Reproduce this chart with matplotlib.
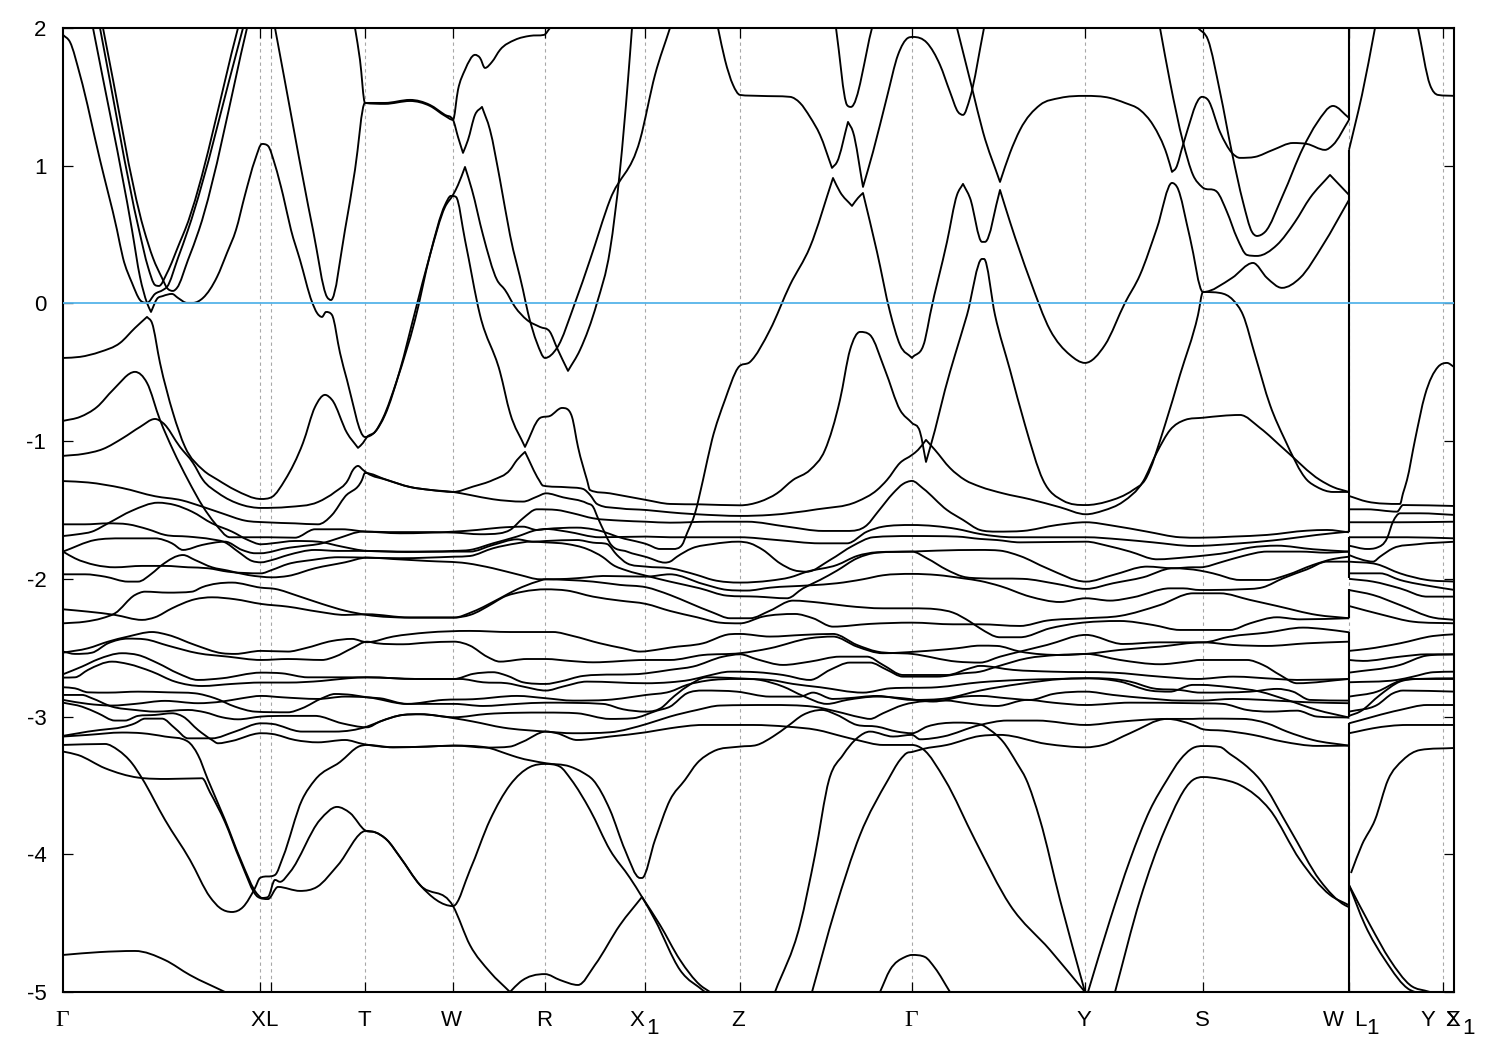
import matplotlib
matplotlib.use("Agg")
import matplotlib.pyplot as plt
from matplotlib.patches import PathPatch
from matplotlib.path import Path
from matplotlib.transforms import blended_transform_factory

# ── Band data: (k along the path, energy) ────────────────

band_top = [(63,-1.29),(88,-1.30),(122,-1.34),(155,-1.40),(182,-1.43),(202,-1.475),(222,-1.524),(245,-1.577),(268,-1.59),(295,-1.597),(318,-1.604),(332,-1.536),(345,-1.403),(362,-1.282),(365,-1.231),(387,-1.282),(410,-1.333),(430,-1.354),(453,-1.369),(473,-1.33),(493,-1.282),(510,-1.209),(517,-1.137),(525,-1.078),(539,-1.282),(543,-1.323),(567,-1.335),(583,-1.347),(590,-1.39),(597,-1.456),(620,-1.488),(646,-1.50),(670,-1.517),(692,-1.529),(697,-1.531),(740,-1.543),(770,-1.536),(817,-1.495),(857,-1.439),(877,-1.355),(887,-1.282),(900,-1.158),(912,-1.10),(918,-1.064),(926,-0.991),(935,-1.064),(950,-1.195),(965,-1.282),(980,-1.33),(1003,-1.379),(1030,-1.422),(1060,-1.48),(1086,-1.531),(1103,-1.505),(1123,-1.44),(1143,-1.294),(1157,-1.08),(1170,-0.92),(1185,-0.846),(1203,-0.83),(1240,-0.81),(1260,-0.904),(1285,-1.064),(1320,-1.282),(1333,-1.333),(1349,-1.369)]
band_par2 = [(63,-1.107),(83,-1.093),(103,-1.057),(123,-0.977),(140,-0.897),(155,-0.839),(163,-0.868),(180,-1.042),(193,-1.158),(203,-1.282),(218,-1.376),(242,-1.463),(261,-1.485),(288,-1.478),(318,-1.442),(335,-1.369),(348,-1.282),(353,-1.209),(358,-1.18),(363,-1.209),(367,-1.231),(387,-1.282),(410,-1.333),(430,-1.354),(453,-1.369),(470,-1.391),(493,-1.422),(523,-1.439),(537,-1.403),(546,-1.379),(563,-1.408),(587,-1.451),(593,-1.476),(598,-1.56),(605,-1.669),(610,-1.742),(627,-1.802),(647,-1.843),(665,-1.882),(670,-1.875),(677,-1.839),(692,-1.778),(713,-1.747),(738,-1.73),(750,-1.742),(763,-1.79),(780,-1.887),(793,-1.935),(807,-1.948),(830,-1.863),(853,-1.759),(873,-1.698),(912,-1.689),(957,-1.693),(980,-1.71),(997,-1.718),(1020,-1.735),(1086,-1.73),(1107,-1.759),(1130,-1.802),(1157,-1.858),(1187,-1.843),(1200,-1.834),(1227,-1.81),(1250,-1.773),(1277,-1.759),(1313,-1.785),(1349,-1.802)]
band_k1 = [(63,-0.396),(80,-0.388),(100,-0.352),(120,-0.287),(135,-0.178),(147,-0.098),(152,-0.142),(160,-0.432),(173,-0.795),(185,-1.042),(203,-1.209),(218,-1.282),(235,-1.354),(261,-1.42),(272,-1.405),(285,-1.282),(303,-1.013),(315,-0.752),(325,-0.664),(332,-0.70),(347,-0.94),(358,-1.049),(363,-1.013),(367,-0.97),(375,-0.933),(383,-0.832),(397,-0.556),(415,-0.12),(430,0.352),(445,0.715),(451,0.781),(456,0.773),(465,0.461),(480,-0.084),(500,-0.497),(510,-0.795),(525,-1.042),(540,-0.832),(550,-0.817),(562,-0.759),(567,-0.766),(572,-0.824),(578,-1.042),(587,-1.282),(590,-1.355),(610,-1.379),(646,-1.427),(670,-1.456),(700,-1.459),(740,-1.466),(760,-1.439),(777,-1.379),(793,-1.282),(810,-1.209),(825,-1.064),(840,-0.70),(850,-0.338),(860,-0.207),(870,-0.229),(885,-0.483),(900,-0.773),(912,-0.868),(920,-0.933),(926,-1.151),(935,-0.919),(945,-0.628),(955,-0.374),(967,-0.084),(982,0.323),(984,0.323),(995,-0.084),(1010,-0.483),(1025,-0.882),(1043,-1.282),(1063,-1.432),(1086,-1.464),(1107,-1.439),(1133,-1.355),(1145,-1.282),(1165,-0.882),(1180,-0.519),(1198,-0.084),(1203,0.083),(1220,0.076),(1233,0.025),(1243,-0.084),(1255,-0.374),(1270,-0.737),(1285,-0.991),(1307,-1.282),(1317,-1.333),(1333,-1.369),(1349,-1.369)]
band_m0 = [(93,2.0),(132,0.534),(140,0.192),(147,0.004),(151,-0.062),(157,0.033),(163,0.054),(172,0.069),(178,0.04),(187,0.004),(193,0.004),(203,0.04),(217,0.192),(227,0.367),(236,0.534),(245,0.788),(255,1.042),(262,1.158),(268,1.144),(275,1.006),(283,0.788),(291,0.534),(300,0.316),(312,0.011),(317,-0.069),(322,-0.098),(326,-0.062),(332,-0.084),(340,-0.359),(347,-0.556),(365,-0.97),(375,-0.933),(385,-0.81),(400,-0.483),(415,-0.062),(430,0.352),(445,0.70),(453,0.788),(458,0.86),(465,0.991),(472,0.824),(483,0.497),(497,0.171),(505,0.098),(515,-0.025),(527,-0.12),(540,-0.171),(550,-0.207),(557,-0.323),(568,-0.49),(580,-0.338),(597,0.004),(610,0.388),(620,0.969),(628,1.623),(632,2.0)]
band_s1 = [(63,1.95),(70,1.898),(80,1.659),(100,1.042),(117,0.534),(123,0.33),(132,0.149),(140,0.025),(147,0.004),(155,0.069),(163,0.098),(167,0.12),(178,0.33),(188,0.534),(243,2.0)]
band_s3 = [(100,2.0),(139,0.534),(148,0.265),(155,0.134),(159,0.127),(167,0.221),(180,0.447),(185,0.534),(238,2.0)]
band_s4 = [(103,2.0),(144,0.534),(153,0.33),(162,0.185),(167,0.113),(173,0.091),(177,0.113),(188,0.316),(199,0.534),(247,2.0)]
band_tpar = [(275,2.0),(313,0.534),(327,0.047),(331,0.025),(345,0.534),(355,0.97),(365,1.456),(385,1.456),(410,1.478),(430,1.441),(445,1.369),(453,1.333),(458,1.209),(463,1.093),(468,1.187),(475,1.369),(482,1.427),(490,1.26),(500,0.897),(510,0.497),(523,0.098),(528,-0.069),(537,-0.287),(545,-0.396),(557,-0.323),(575,0.004),(590,0.316),(610,0.752),(640,1.187),(655,1.659),(670,2.0)]
band_t2 = [(355,2.0),(360,1.768),(365,1.456),(385,1.449),(410,1.47),(430,1.434),(445,1.362),(453,1.333),(458,1.551),(465,1.696),(475,1.805),(480,1.783),(485,1.71),(492,1.754),(500,1.841),(515,1.914),(530,1.943),(544,1.95),(550,2.0)]
band_z = [(718,2.0),(725,1.768),(733,1.587),(740,1.514),(760,1.507),(790,1.50),(800,1.456),(810,1.354),(820,1.224),(832,0.984),(837,1.027),(848,1.318),(853,1.246),(863,0.846),(873,1.10),(887,1.50),(898,1.805),(908,1.928),(913,1.935),(927,1.892),(940,1.732),(950,1.536),(958,1.391),(963,1.369),(970,1.492),(984,2.0)]
band_h2 = [(836,2.0),(847,1.441),(851,1.427),(872,2.0)]
band_h3 = [(957,2.0),(972,1.565),(983,1.245),(1000,0.882),(1010,1.093),(1020,1.26),(1040,1.441),(1060,1.492),(1085,1.507),(1110,1.492),(1125,1.456),(1140,1.405),(1153,1.296),(1167,1.078),(1172,0.955),(1176,0.984),(1183,1.151),(1202,1.50),(1208,1.478),(1220,1.245),(1232,1.093),(1240,1.057),(1255,1.064),(1273,1.115),(1293,1.165),(1307,1.158),(1325,1.115),(1333,1.151),(1349,1.333)]
band_a = [(63,-1.802),(95,-1.718),(122,-1.706),(155,-1.706),(172,-1.742),(183,-1.79),(202,-1.754),(225,-1.73),(242,-1.79),(255,-1.814),(261,-1.814),(272,-1.802),(282,-1.783),(298,-1.766),(322,-1.742),(338,-1.706),(363,-1.657),(400,-1.669),(454,-1.657),(477,-1.645),(500,-1.628),(523,-1.621),(537,-1.645),(546,-1.638),(577,-1.628),(593,-1.64),(603,-1.657),(617,-1.693),(647,-1.749),(660,-1.783),(673,-1.783),(682,-1.754),(687,-1.669),(695,-1.524),(703,-1.282),(712,-0.991),(725,-0.70),(738,-0.468),(750,-0.425),(770,-0.192),(790,0.134),(810,0.41),(833,0.911),(840,0.81),(852,0.708),(858,0.766),(863,0.802),(877,0.374),(890,-0.062),(900,-0.301),(912,-0.396),(925,-0.265),(930,-0.084),(947,0.447),(957,0.788),(963,0.868),(970,0.766),(982,0.447),(985,0.447),(1000,0.824),(1010,0.592),(1030,0.171),(1050,-0.192),(1070,-0.374),(1085,-0.432),(1105,-0.301),(1125,0.004),(1140,0.207),(1157,0.548),(1172,0.875),(1177,0.846),(1190,0.476),(1203,0.083),(1232,0.185),(1253,0.294),(1267,0.185),(1282,0.113),(1300,0.185),(1323,0.425),(1349,0.752)]
band_a2 = [(1160,2.0),(1170,1.609),(1183,1.173),(1193,0.933),(1202,0.846),(1217,0.81),(1227,0.664),(1237,0.476),(1247,0.352),(1257,0.345),(1277,0.425),(1295,0.592),(1310,0.766),(1330,0.933),(1349,0.788)]
band_b2 = [(1198,2.0),(1208,1.914),(1220,1.536),(1232,1.093),(1243,0.737),(1252,0.519),(1257,0.49),(1265,0.519),(1283,0.788),(1303,1.129),(1317,1.311),(1333,1.434),(1349,1.347)]

band_b = [(63,-0.853),(80,-0.824),(97,-0.752),(113,-0.628),(135,-0.497),(147,-0.577),(160,-0.846),(173,-1.064),(188,-1.282),(203,-1.476),(215,-1.597),(230,-1.698),(268,-1.698),(295,-1.701),(315,-1.64),(342,-1.64),(367,-1.657),(454,-1.664),(480,-1.676),(500,-1.669),(510,-1.645),(523,-1.56),(537,-1.495),(557,-1.50),(573,-1.524),(593,-1.56),(620,-1.577),(646,-1.585),(670,-1.592),(710,-1.585),(747,-1.585),(787,-1.621),(823,-1.652),(847,-1.652),(867,-1.609),(878,-1.512),(893,-1.379),(903,-1.311),(912,-1.289),(923,-1.343),(947,-1.50),(963,-1.572),(980,-1.645),(997,-1.657),(1023,-1.652),(1057,-1.609),(1086,-1.589),(1113,-1.614),(1147,-1.657),(1180,-1.698),(1200,-1.701),(1233,-1.693),(1267,-1.681),(1307,-1.65),(1327,-1.645),(1349,-1.662)]
band_d = [(63,-1.689),(78,-1.676),(92,-1.657),(108,-1.597),(132,-1.505),(158,-1.447),(175,-1.464),(192,-1.512),(212,-1.597),(232,-1.657),(248,-1.718),(261,-1.749),(272,-1.742),(295,-1.725),(318,-1.73),(342,-1.766),(367,-1.797),(407,-1.802),(454,-1.797),(470,-1.79),(493,-1.742),(517,-1.693),(537,-1.645),(546,-1.638),(567,-1.657),(600,-1.698),(646,-1.693),(670,-1.698),(703,-1.698),(740,-1.698),(777,-1.718),(820,-1.742),(847,-1.742),(867,-1.657),(883,-1.621),(912,-1.609),(957,-1.638),(980,-1.674),(1013,-1.698),(1047,-1.698),(1086,-1.698),(1120,-1.713),(1153,-1.735),(1193,-1.761),(1240,-1.742),(1283,-1.713),(1317,-1.681),(1349,-1.657)]
band_c = [(63,-1.604),(85,-1.604),(108,-1.597),(128,-1.604),(148,-1.64),(165,-1.681),(188,-1.693),(212,-1.713),(225,-1.735),(238,-1.802),(252,-1.87),(261,-1.88),(272,-1.863),(288,-1.827),(315,-1.79),(338,-1.797),(367,-1.797),(407,-1.805),(454,-1.802),(470,-1.802),(493,-1.754),(517,-1.713),(533,-1.73),(546,-1.725),(577,-1.718),(593,-1.737),(607,-1.747),(617,-1.827),(627,-1.887),(646,-1.911),(670,-1.923),(697,-1.972),(713,-2.008),(740,-2.027),(770,-2.013),(790,-1.989),(807,-1.948),(837,-1.899),(857,-1.834),(877,-1.807),(912,-1.802),(927,-1.851),(947,-1.935),(963,-1.984),(980,-1.996),(1023,-2.0),(1057,-2.037),(1086,-2.073),(1113,-2.032),(1143,-1.989),(1173,-1.923),(1200,-1.94),(1213,-1.96),(1240,-2.008),(1267,-2.008),(1287,-1.972),(1313,-1.899),(1333,-1.856),(1349,-1.839)]
band_e = [(63,-1.802),(75,-1.851),(95,-1.899),(115,-1.916),(142,-1.906),(165,-1.906),(188,-1.916),(208,-1.923),(228,-1.948),(261,-1.96),(272,-1.935),(288,-1.892),(312,-1.863),(338,-1.843),(367,-1.846),(400,-1.85),(454,-1.839),(470,-1.834),(493,-1.778),(517,-1.742),(530,-1.73),(546,-1.735),(567,-1.747),(587,-1.783),(603,-1.843),(613,-1.899),(627,-1.94),(646,-1.977),(670,-2.02),(700,-2.069),(727,-2.122),(757,-2.129),(787,-2.141),(803,-2.069),(820,-2.008),(837,-1.94),(857,-1.851),(877,-1.81),(912,-1.802),(937,-1.795),(980,-1.79),(1000,-1.795),(1020,-1.834),(1047,-1.923),(1086,-2.02),(1113,-1.972),(1147,-1.911),(1173,-1.923),(1193,-1.916),(1200,-1.916),(1223,-1.875),(1243,-1.834),(1267,-1.802),(1300,-1.802),(1327,-1.81),(1349,-1.802)]
band_f = [(63,-1.967),(85,-1.967),(105,-1.984),(128,-2.02),(138,-2.02),(152,-1.96),(162,-1.899),(183,-1.827),(195,-1.863),(212,-1.916),(228,-1.94),(248,-1.972),(261,-1.984),(272,-1.989),(288,-1.979),(315,-1.923),(345,-1.88),(367,-1.846),(393,-1.856),(427,-1.87),(467,-1.887),(493,-1.923),(520,-1.972),(540,-2.003),(567,-2.0),(587,-1.989),(603,-1.979),(646,-1.984),(670,-1.967),(703,-2.037),(727,-2.08),(747,-2.085),(770,-2.064),(810,-2.047),(837,-2.032),(863,-2.003),(883,-1.974),(912,-1.964),(937,-1.972),(963,-1.996),(980,-2.015),(1000,-2.052),(1030,-2.129),(1060,-2.168),(1086,-2.141),(1110,-2.158),(1133,-2.134),(1170,-2.069),(1183,-2.069),(1200,-2.081),(1240,-2.076),(1263,-2.061),(1283,-1.996),(1307,-1.931),(1327,-1.875),(1349,-1.875)]
band_g = [(63,-2.221),(88,-2.238),(115,-2.262),(142,-2.298),(155,-2.279),(172,-2.214),(195,-2.148),(212,-2.134),(235,-2.148),(261,-2.182),(288,-2.202),(318,-2.238),(345,-2.262),(367,-2.257),(410,-2.281),(454,-2.281),(473,-2.238),(500,-2.141),(517,-2.076),(537,-2.02),(546,-2.003),(567,-2.008),(593,-2.02),(620,-2.044),(646,-2.061),(670,-2.117),(690,-2.177),(713,-2.245),(730,-2.286),(750,-2.286),(770,-2.231),(793,-2.158),(820,-2.173),(847,-2.197),(883,-2.214),(912,-2.214),(937,-2.221),(953,-2.245),(970,-2.311),(980,-2.359),(1000,-2.424),(1020,-2.424),(1050,-2.359),(1077,-2.323),(1120,-2.306),(1153,-2.335),(1180,-2.371),(1200,-2.371),(1230,-2.371),(1250,-2.323),(1277,-2.279),(1300,-2.294),(1349,-2.286)]
band_h = [(63,-2.323),(85,-2.311),(102,-2.286),(115,-2.25),(135,-2.117),(145,-2.093),(168,-2.1),(192,-2.093),(202,-2.061),(232,-2.027),(261,-2.064),(275,-2.073),(298,-2.124),(322,-2.182),(345,-2.231),(367,-2.262),(410,-2.281),(454,-2.281),(470,-2.262),(493,-2.177),(503,-2.134),(523,-2.093),(546,-2.076),(567,-2.085),(593,-2.129),(620,-2.158),(646,-2.182),(670,-2.233),(697,-2.279),(720,-2.318),(740,-2.323),(763,-2.274),(795,-2.255),(813,-2.286),(833,-2.347),(870,-2.327),(912,-2.318),(953,-2.33),(980,-2.33),(1020,-2.342),(1047,-2.303),(1086,-2.286),(1120,-2.269),(1160,-2.19),(1193,-2.105),(1220,-2.105),(1250,-2.153),(1277,-2.197),(1317,-2.262),(1349,-2.286)]
band_i = [(63,-2.536),(88,-2.504),(108,-2.456),(128,-2.419),(152,-2.386),(168,-2.407),(195,-2.48),(222,-2.54),(235,-2.545),(261,-2.523),(288,-2.528),(305,-2.504),(332,-2.451),(352,-2.436),(367,-2.46),(393,-2.419),(427,-2.39),(470,-2.378),(510,-2.386),(553,-2.386),(573,-2.415),(600,-2.468),(623,-2.504),(640,-2.528),(660,-2.511),(670,-2.499),(703,-2.468),(730,-2.402),(740,-2.4),(770,-2.419),(803,-2.407),(833,-2.4),(857,-2.48),(877,-2.528),(912,-2.545),(957,-2.601),(980,-2.608),(1000,-2.565),(1020,-2.528),(1047,-2.48),(1086,-2.407),(1123,-2.473),(1160,-2.461),(1203,-2.461),(1230,-2.419),(1267,-2.39),(1303,-2.354),(1323,-2.364),(1349,-2.388)]
band_j = [(63,-2.528),(75,-2.545),(92,-2.536),(108,-2.468),(128,-2.434),(145,-2.439),(168,-2.485),(198,-2.54),(228,-2.565),(261,-2.589),(288,-2.582),(322,-2.589),(335,-2.565),(352,-2.504),(367,-2.456),(377,-2.468),(403,-2.475),(427,-2.463),(454,-2.456),(470,-2.485),(487,-2.565),(500,-2.601),(527,-2.582),(546,-2.582),(570,-2.596),(593,-2.606),(646,-2.589),(670,-2.589),(703,-2.553),(740,-2.54),(770,-2.504),(810,-2.431),(833,-2.419),(857,-2.492),(883,-2.54),(917,-2.528),(957,-2.504),(980,-2.485),(997,-2.487),(1020,-2.528),(1063,-2.553),(1086,-2.545),(1120,-2.589),(1160,-2.62),(1187,-2.601),(1200,-2.589),(1247,-2.589),(1263,-2.625),(1280,-2.698),(1297,-2.758),(1349,-2.727)]
band_k = [(63,-2.693),(82,-2.637),(98,-2.584),(122,-2.54),(138,-2.553),(158,-2.613),(178,-2.686),(198,-2.734),(222,-2.722),(261,-2.681),(282,-2.686),(308,-2.715),(335,-2.715),(367,-2.715),(417,-2.727),(454,-2.727),(473,-2.69),(493,-2.678),(507,-2.703),(523,-2.751),(546,-2.763),(560,-2.746),(583,-2.705),(646,-2.686),(670,-2.661),(693,-2.637),(723,-2.565),(740,-2.548),(757,-2.584),(783,-2.625),(810,-2.601),(840,-2.565),(867,-2.565),(883,-2.625),(903,-2.698),(947,-2.698),(970,-2.649),(980,-2.632),(1013,-2.661),(1053,-2.674),(1113,-2.681),(1160,-2.71),(1197,-2.727),(1233,-2.71),(1277,-2.727),(1297,-2.734),(1349,-2.727)]
band_l = [(63,-2.717),(75,-2.715),(88,-2.661),(112,-2.601),(128,-2.618),(152,-2.674),(175,-2.746),(202,-2.778),(232,-2.763),(261,-2.753),(288,-2.753),(322,-2.741),(348,-2.722),(367,-2.715),(417,-2.727),(460,-2.727),(483,-2.751),(507,-2.758),(523,-2.782),(546,-2.811),(563,-2.782),(587,-2.746),(646,-2.758),(670,-2.751),(690,-2.734),(707,-2.705),(730,-2.674),(757,-2.678),(783,-2.698),(810,-2.734),(830,-2.661),(850,-2.608),(870,-2.608),(887,-2.661),(903,-2.71),(937,-2.71),(963,-2.686),(980,-2.674),(997,-2.637),(1027,-2.577),(1057,-2.553),(1086,-2.545),(1120,-2.516),(1160,-2.492),(1203,-2.461),(1233,-2.48),(1267,-2.487),(1307,-2.468),(1349,-2.456)]
band_m = [(63,-2.787),(75,-2.795),(88,-2.824),(108,-2.826),(138,-2.819),(168,-2.824),(195,-2.831),(215,-2.867),(235,-2.928),(255,-2.964),(288,-2.969),(302,-2.94),(322,-2.867),(335,-2.836),(352,-2.843),(367,-2.86),(380,-2.867),(407,-2.908),(443,-2.879),(473,-2.874),(517,-2.85),(546,-2.867),(573,-2.884),(607,-2.879),(646,-2.843),(670,-2.819),(687,-2.77),(707,-2.739),(737,-2.727),(770,-2.734),(793,-2.763),(820,-2.787),(863,-2.826),(890,-2.795),(937,-2.787),(980,-2.751),(1020,-2.734),(1057,-2.727),(1086,-2.722),(1120,-2.746),(1150,-2.811),(1170,-2.819),(1193,-2.77),(1200,-2.77),(1230,-2.787),(1260,-2.819),(1287,-2.879),(1317,-2.952),(1349,-3.007)]
band_o = [(63,-2.879),(88,-2.908),(112,-2.92),(135,-2.908),(165,-2.886),(198,-2.903),(222,-2.891),(242,-2.867),(261,-2.85),(282,-2.86),(318,-2.872),(345,-2.855),(367,-2.86),(407,-2.908),(454,-2.908),(483,-2.923),(517,-2.908),(546,-2.899),(603,-2.908),(623,-2.947),(646,-2.964),(663,-2.928),(670,-2.879),(687,-2.782),(707,-2.715),(737,-2.722),(760,-2.734),(783,-2.782),(803,-2.85),(827,-2.908),(847,-2.879),(877,-2.855),(903,-2.867),(933,-2.891),(963,-2.855),(980,-2.85),(1007,-2.867),(1030,-2.879),(1053,-2.836),(1086,-2.819),(1113,-2.843),(1147,-2.867),(1180,-2.884),(1200,-2.884),(1233,-2.872),(1263,-2.879),(1307,-2.896),(1349,-2.903)]
band_n = [(63,-2.843),(82,-2.843),(92,-2.867),(112,-2.928),(135,-2.952),(155,-2.964),(188,-2.952),(205,-2.969),(222,-3.005),(238,-3.02),(261,-3.0),(288,-2.995),(315,-2.995),(342,-3.049),(367,-3.078),(380,-3.036),(403,-2.988),(420,-2.983),(454,-3.012),(473,-3.036),(503,-3.08),(546,-3.109),(573,-3.121),(610,-3.114),(647,-3.053),(670,-3.0),(697,-2.952),(720,-2.92),(770,-2.916),(813,-2.928),(837,-2.964),(860,-3.005),(870,-3.017),(883,-2.976),(903,-2.916),(947,-2.884),(963,-2.899),(980,-2.916),(997,-2.923),(1027,-2.879),(1053,-2.899),(1086,-2.916),(1130,-2.899),(1193,-2.903),(1223,-2.908),(1247,-2.952),(1270,-2.964),(1297,-2.957),(1317,-3.0),(1349,-3.007)]
band_p = [(63,-2.899),(82,-2.928),(98,-2.976),(115,-3.029),(125,-3.029),(138,-2.995),(155,-2.988),(172,-2.976),(183,-3.0),(198,-3.097),(212,-3.17),(218,-3.194),(232,-3.177),(261,-3.121),(272,-3.126),(295,-3.17),(318,-3.187),(345,-3.17),(363,-3.199),(393,-3.223),(427,-3.218),(454,-3.211),(487,-3.225),(510,-3.218),(523,-3.182),(546,-3.109),(557,-3.121),(577,-3.17),(610,-3.145),(646,-3.114),(670,-3.085),(703,-3.061),(753,-3.061),(787,-3.073),(817,-3.097),(843,-3.145),(857,-3.17),(883,-3.206),(912,-3.206),(923,-3.237),(945,-3.46),(975,-3.896),(1010,-4.368),(1050,-4.695),(1085,-5.0)]
band_q = [(63,-3.14),(88,-3.109),(135,-3.049),(145,-3.015),(162,-3.015),(175,-3.085),(188,-3.158),(212,-3.158),(235,-3.109),(261,-3.049),(272,-3.053),(302,-3.109),(335,-3.109),(367,-3.073),(380,-3.036),(403,-2.988),(420,-2.983),(454,-3.005),(487,-2.981),(546,-2.971),(577,-2.976),(610,-3.017),(633,-3.012),(657,-2.957),(670,-2.928),(687,-2.831),(703,-2.811),(737,-2.819),(770,-2.855),(800,-2.855),(813,-2.826),(833,-2.872),(847,-2.867),(877,-2.85),(912,-2.879),(947,-2.867),(980,-2.811),(1020,-2.763),(1063,-2.727),(1097,-2.722),(1130,-2.746),(1153,-2.795),(1180,-2.807),(1200,-2.826),(1250,-2.819),(1277,-2.799),(1293,-2.819),(1310,-2.879),(1349,-2.884)]
band_r = [(63,-3.145),(88,-3.133),(122,-3.116),(142,-3.121),(165,-3.145),(188,-3.182),(198,-3.279),(208,-3.46),(225,-3.75),(240,-4.027),(258,-4.295),(262,-4.317),(268,-4.31),(275,-4.186),(280,-4.2),(290,-4.129),(320,-3.75),(337,-3.656),(350,-3.70),(366,-3.83),(375,-3.84),(387,-3.896),(400,-4.02),(420,-4.223),(453,-4.376),(470,-4.114),(490,-3.751),(510,-3.497),(530,-3.366),(545,-3.344),(560,-3.364),(571,-3.456),(590,-3.678),(610,-3.969),(630,-4.172),(642,-4.31),(655,-4.477),(680,-4.84),(705,-5.0)]
band_s = [(63,-3.206),(105,-3.199),(118,-3.243),(132,-3.339),(142,-3.448),(165,-3.75),(190,-4.041),(210,-4.31),(220,-4.39),(232,-4.419),(243,-4.383),(255,-4.245),(260,-4.172),(275,-4.15),(283,-4.02),(302,-3.606),(315,-3.46),(340,-3.33),(360,-3.214),(367,-3.206),(393,-3.223),(427,-3.218),(454,-3.211),(487,-3.225),(507,-3.271),(517,-3.295),(546,-3.339),(570,-3.363),(583,-3.407),(593,-3.46),(610,-3.678),(625,-3.969),(640,-4.172),(642,-4.172),(655,-3.896),(670,-3.606),(685,-3.46),(697,-3.339),(713,-3.254),(740,-3.218),(757,-3.206),(773,-3.145),(788,-3.068),(803,-2.988),(822,-2.952),(837,-2.988),(857,-3.061),(877,-3.073),(897,-3.109),(912,-3.121),(927,-3.073),(957,-3.044),(980,-3.056),(990,-3.097),(1003,-3.182),(1017,-3.339),(1026,-3.453),(1040,-3.75),(1060,-4.331),(1085,-5.0)]
band_t = [(63,-3.254),(78,-3.279),(105,-3.375),(138,-3.443),(168,-3.453),(202,-3.448),(210,-3.55),(225,-3.766),(240,-4.041),(258,-4.31),(268,-4.325),(278,-4.237),(300,-4.266),(317,-4.237),(338,-4.078),(366,-3.83),(375,-3.84),(387,-3.896),(400,-4.02),(420,-4.223),(453,-4.376),(470,-4.66),(490,-4.855),(510,-5.0)]
band_rb = [(510,-5.0),(520,-4.928),(545,-4.87),(560,-4.913),(578,-4.949),(595,-4.803),(620,-4.513),(642,-4.31),(660,-4.513),(680,-4.767),(700,-4.949),(710,-5.0)]
band_u = [(775,-5.0),(800,-4.513),(815,-4.005),(829,-3.46),(843,-3.279),(857,-3.157),(870,-3.109),(893,-3.145),(912,-3.133),(920,-3.165),(943,-3.145),(980,-3.061),(1007,-3.029),(1037,-3.029),(1086,-3.061),(1120,-3.037),(1167,-3.017),(1193,-3.017),(1200,-3.015),(1243,-3.017),(1267,-3.049),(1287,-3.109),(1313,-3.17),(1349,-3.211)]
band_v = [(812,-5.0),(835,-4.405),(860,-3.86),(888,-3.46),(900,-3.315),(907,-3.264),(912,-3.257),(923,-3.235),(947,-3.206),(980,-3.141),(1000,-3.133),(1047,-3.199),(1086,-3.223),(1103,-3.206),(1130,-3.121),(1167,-3.017),(1193,-3.061),(1203,-3.092),(1223,-3.102),(1253,-3.133),(1283,-3.182),(1317,-3.213),(1349,-3.211)]
band_w = [(1088,-5.0),(1110,-4.477),(1130,-4.041),(1150,-3.678),(1167,-3.46),(1180,-3.315),(1193,-3.228),(1203,-3.214),(1220,-3.221),(1230,-3.272),(1243,-3.339),(1260,-3.458),(1290,-3.82),(1320,-4.19),(1345,-4.37),(1349,-4.384)]
band_x = [(1115,-5.0),(1140,-4.33),(1165,-3.82),(1193,-3.46),(1203,-3.439),(1220,-3.453),(1240,-3.497),(1270,-3.678),(1300,-4.041),(1330,-4.295),(1349,-4.37)]
band_low1 = [(63,-4.731),(100,-4.71),(135,-4.702),(165,-4.768),(190,-4.877),(225,-5.0)]
band_low2 = [(880,-5.0),(890,-4.84),(905,-4.746),(912,-4.731),(925,-4.746),(935,-4.826),(950,-5.0)]

# last leg, after the jump at W
leg_01 = [(1349,-1.398),(1367,-1.439),(1400,-1.456),(1403,-1.379),(1407,-1.282),(1415,-0.991),(1425,-0.665),(1438,-0.461),(1447,-0.432),(1454,-0.461)]
leg_02 = [(1349,-1.495),(1367,-1.495),(1397,-1.512),(1403,-1.464),(1455,-1.471)]
leg_03 = [(1349,-1.589),(1400,-1.589),(1455,-1.585)]
leg_04 = [(1349,-1.759),(1367,-1.783),(1377,-1.773),(1387,-1.706),(1393,-1.585),(1400,-1.524),(1420,-1.524),(1455,-1.536)]
leg_05 = [(1349,-1.698),(1407,-1.698),(1455,-1.706)]
leg_06 = [(1349,-1.827),(1363,-1.863),(1373,-1.875),(1380,-1.839),(1393,-1.778),(1417,-1.749),(1455,-1.73)]
leg_07 = [(1349,-1.875),(1377,-1.894),(1400,-1.96),(1427,-2.008),(1455,-2.02)]
leg_08 = [(1349,-1.96),(1380,-1.96),(1400,-2.008),(1433,-2.056),(1455,-2.081)]
leg_09 = [(1349,-2.0),(1373,-2.02),(1400,-2.069),(1427,-2.129),(1455,-2.129)]
leg_10 = [(1349,-2.081),(1373,-2.117),(1400,-2.19),(1433,-2.281),(1455,-2.298)]
leg_11 = [(1349,-2.197),(1383,-2.262),(1413,-2.311),(1455,-2.323)]
leg_12 = [(1349,-2.523),(1367,-2.509),(1400,-2.468),(1433,-2.415),(1455,-2.402)]
leg_13 = [(1349,-2.589),(1363,-2.596),(1400,-2.565),(1427,-2.548),(1455,-2.548)]
leg_14 = [(1349,-2.681),(1400,-2.625),(1427,-2.557),(1455,-2.548)]
leg_15 = [(1349,-2.751),(1397,-2.734),(1413,-2.71),(1433,-2.678),(1455,-2.674)]
leg_16 = [(1349,-2.855),(1377,-2.819),(1400,-2.741),(1413,-2.727),(1455,-2.727)]
leg_17 = [(1349,-2.995),(1360,-2.964),(1380,-2.843),(1400,-2.746),(1417,-2.727),(1455,-2.722)]
leg_18 = [(1349,-2.964),(1377,-2.916),(1393,-2.831),(1403,-2.811),(1455,-2.819)]
leg_19 = [(1349,-3.049),(1400,-2.952),(1427,-2.916),(1455,-2.916)]
leg_20 = [(1349,-3.121),(1357,-3.109),(1373,-3.085),(1407,-3.061),(1455,-3.061)]
leg_21 = [(1351,-4.136),(1362,-3.93),(1375,-3.75),(1388,-3.46),(1403,-3.315),(1420,-3.243),(1455,-3.228)]
leg_22 = [(1349,-4.223),(1370,-4.513),(1390,-4.767),(1410,-4.949),(1430,-5.0)]
leg_23 = [(1349,-4.223),(1365,-4.513),(1385,-4.767),(1410,-4.985),(1415,-5.0)]
leg_24 = [(1349,1.115),(1355,1.296),(1362,1.514),(1375,2.0)]
leg_25 = [(1418,2.0),(1430,1.587),(1438,1.514),(1455,1.507)]

BANDS = [band_top, band_par2, band_k1, band_m0, band_s1, band_s3, band_s4, band_tpar, band_t2,
         band_z, band_h2, band_h3, band_a, band_a2, band_b2, band_b, band_d, band_c, band_e,
         band_f, band_g, band_h, band_i, band_j, band_k, band_l, band_m, band_o, band_n,
         band_p, band_q, band_r, band_s, band_t, band_rb, band_u, band_v, band_w, band_x,
         band_low1, band_low2, leg_01, leg_02, leg_03, leg_04, leg_05, leg_06, leg_07, leg_08,
         leg_09, leg_10, leg_11, leg_12, leg_13, leg_14, leg_15, leg_16, leg_17, leg_18, leg_19,
         leg_20, leg_21, leg_22, leg_23, leg_24, leg_25]

# where the bands jump at the W / L1 break
jump_top = [2.0, 1.115, -1.693, -2.073, -2.388, -3.05]
jump_bottom = [1.33, -1.657, -1.996, -2.286, -3.005, -5.0]

k_points = [260, 271, 365, 453, 545, 645, 740, 912, 1085, 1203, 1349, 1443]
k_break = 1349
energy_ticks = [2, 1, 0, -1, -2, -3, -4, -5]

labels_k = [("X", 258), ("L", 271), ("T", 364), ("W", 451), ("R", 544), ("X", 637),
            ("Z", 738), ("Y", 1084), ("S", 1202), ("W", 1333), ("L", 1360), ("Y", 1428),
            ("X", 1453), ("Σ", 1453)]
labels_gamma = [62, 911]
labels_sub = [652, 1373, 1468]

SHARP_SLOPE = 0.0065  # eV per k unit: steeper on both sides means a real kink


def band_path(band):
    """Bezier path through the read points; sharp at band crossings, flat at soft extrema."""
    slopes = [(b[1] - a[1]) / (b[0] - a[0]) for a, b in zip(band, band[1:])]
    t_in = [slopes[0]]
    t_out = [slopes[0]]
    for i in range(1, len(band) - 1):
        s0, s1 = slopes[i - 1], slopes[i]
        h0 = band[i][0] - band[i - 1][0]
        h1 = band[i + 1][0] - band[i][0]
        if s0 * s1 <= 0:
            if min(abs(s0), abs(s1)) > SHARP_SLOPE:
                t_in.append(s0)
                t_out.append(s1)
            else:
                t_in.append(0.0)
                t_out.append(0.0)
            continue
        t = (h1 * s0 + h0 * s1) / (h0 + h1)
        limit = 3 * min(abs(s0), abs(s1))
        t = max(-limit, min(limit, t))
        t_in.append(t)
        t_out.append(t)
    t_in.append(slopes[-1])

    verts = [band[0]]
    codes = [Path.MOVETO]
    for i in range(len(band) - 1):
        (x0, y0), (x1, y1) = band[i], band[i + 1]
        h = (x1 - x0) / 3
        verts += [(x0 + h, y0 + t_out[i] * h), (x1 - h, y1 - t_in[i + 1] * h), (x1, y1)]
        codes += [Path.CURVE4, Path.CURVE4, Path.CURVE4]
    return Path(verts, codes)


# ── Plot ─────────────────────────────────────────────────

plt.rcParams["font.family"] = ["Liberation Sans", "DejaVu Sans"]
fig = plt.figure(figsize=(15, 10.5), dpi=100)
ax = fig.add_axes([63 / 1500, 1 - 992 / 1050, 1391 / 1500, 964 / 1050])

for k in k_points:
    ax.axvline(k, color="#a8a8a8", lw=0.8, ls=(0, (3, 3)), zorder=1)

for band in BANDS:
    ax.add_patch(PathPatch(band_path(band), fill=False, edgecolor="black", lw=1.35,
                           joinstyle="round", zorder=2))

ax.vlines([k_break] * len(jump_top), jump_bottom, jump_top, color="black", lw=1.5, zorder=2)
ax.axhline(0, color="#56b4e9", lw=1.3, zorder=3)

ax.set_xlim(63, 1454)
ax.set_ylim(-5, 2)
ax.set_yticks(energy_ticks)
ax.set_yticklabels([str(v) for v in energy_ticks], fontsize=16)
ax.set_xticks(k_points)
ax.set_xticklabels([])
ax.tick_params(axis="both", direction="in", length=7, width=0.9, top=True, right=True, pad=12)
for spine in ax.spines.values():
    spine.set_linewidth(1.5)

trans = blended_transform_factory(ax.transData, ax.transAxes)
for text, k in labels_k:
    ax.text(k, -0.0295, text, transform=trans, ha="center", va="center", fontsize=16, clip_on=False)
for k in labels_gamma:
    ax.text(k, -0.0295, "Γ", transform=trans, ha="center", va="center", fontsize=17,
            family="Liberation Serif", clip_on=False)
for k in labels_sub:
    ax.text(k, -0.0375, "1", transform=trans, ha="center", va="center", fontsize=16, clip_on=False)

fig.savefig("out.png", dpi=100)
